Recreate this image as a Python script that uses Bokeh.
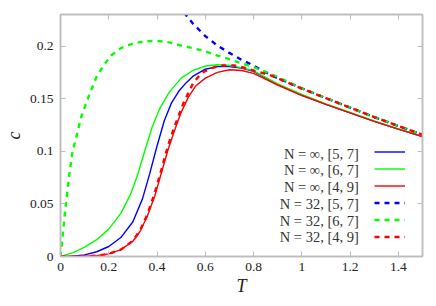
from bokeh.plotting import figure
from bokeh.models import (FixedTicker, LinearAxis, Label, Legend, LegendItem,
                          PrintfTickFormatter, CustomLabelingPolicy, Range1d)
from bokeh.embed import file_html
from bokeh.resources import INLINE

# ---------------- data ----------------
x_ticks = [0, 0.2, 0.4, 0.6, 0.8, 1.0, 1.2, 1.4]
y_ticks = [0, 0.05, 0.1, 0.15, 0.2]

labels = ["N = ∞, [5, 7]", "N = ∞, [6, 7]", "N = ∞, [4, 9]",
          "N = 32, [5, 7]", "N = 32, [6, 7]", "N = 32, [4, 9]"]

# N = inf, [5,7]  (blue solid)
T_inf57 = [0, 0.05, 0.1, 0.15, 0.2, 0.25, 0.3, 0.34, 0.37, 0.4, 0.43, 0.46, 0.49, 0.52,
           0.55, 0.6, 0.65, 0.7, 0.75, 0.8, 0.9, 1.0, 1.1, 1.2, 1.3, 1.4, 1.5]
c_inf57 = [0, 0.0003, 0.0015, 0.0045, 0.0095, 0.018, 0.033, 0.055, 0.079, 0.105, 0.129,
           0.146, 0.157, 0.165, 0.1715, 0.178, 0.1805, 0.1805, 0.179, 0.176, 0.1635,
           0.1535, 0.1445, 0.1365, 0.1285, 0.121, 0.114]

# N = inf, [6,7]  (green solid)
T_inf67 = [0, 0.05, 0.1, 0.15, 0.2, 0.25, 0.29, 0.32, 0.35, 0.38, 0.41, 0.45, 0.5, 0.55,
           0.6, 0.65, 0.7, 0.75, 0.8, 0.9, 1.0, 1.1, 1.2, 1.3, 1.4, 1.5]
c_inf67 = [0, 0.0035, 0.009, 0.016, 0.026, 0.041, 0.059, 0.078, 0.101, 0.123, 0.14,
           0.156, 0.1695, 0.177, 0.181, 0.1822, 0.1815, 0.1795, 0.1765, 0.164, 0.154,
           0.145, 0.137, 0.1288, 0.1212, 0.1142]

# N = inf, [4,9]  (red solid)
T_inf49 = [0, 0.1, 0.15, 0.2, 0.25, 0.3, 0.33, 0.36, 0.39, 0.42, 0.445, 0.47, 0.5, 0.53,
           0.56, 0.6, 0.65, 0.7, 0.75, 0.8, 0.9, 1.0, 1.1, 1.2, 1.3, 1.4, 1.5]
c_inf49 = [0, 0.0002, 0.0008, 0.0025, 0.0065, 0.0145, 0.024, 0.0385, 0.057, 0.081, 0.101,
           0.118, 0.137, 0.1515, 0.162, 0.1695, 0.175, 0.1775, 0.1768, 0.174, 0.163,
           0.153, 0.1445, 0.1365, 0.1285, 0.121, 0.114]

# N = 32, [5,7]  (blue dashed)
T_32_57 = [0.49, 0.52, 0.55, 0.6, 0.65, 0.7, 0.75, 0.8, 0.85, 0.9, 1.0, 1.1, 1.2, 1.3,
           1.4, 1.5]
c_32_57 = [0.24, 0.2295, 0.221, 0.2095, 0.2005, 0.1935, 0.187, 0.1815, 0.175, 0.1695,
           0.1598, 0.1505, 0.1415, 0.1325, 0.124, 0.1158]

# N = 32, [6,7]  (green dashed)
T_32_67 = [0, 0.01, 0.02, 0.035, 0.05, 0.065, 0.085, 0.105, 0.125, 0.15, 0.18, 0.21,
           0.25, 0.3, 0.35, 0.4, 0.45, 0.5, 0.55, 0.6, 0.65, 0.7, 0.75, 0.8, 0.85, 0.9,
           1.0, 1.1, 1.2, 1.3, 1.4, 1.5]
c_32_67 = [0, 0.022, 0.045, 0.075, 0.1, 0.113, 0.132, 0.145, 0.157, 0.171, 0.182, 0.191,
           0.198, 0.2025, 0.2045, 0.205, 0.2035, 0.2005, 0.198, 0.195, 0.191, 0.1875,
           0.1835, 0.18, 0.1755, 0.1705, 0.1598, 0.1505, 0.1415, 0.1325, 0.124, 0.1158]

# N = 32, [4,9]  (red dashed)
T_32_49 = [0, 0.1, 0.15, 0.2, 0.25, 0.3, 0.33, 0.36, 0.39, 0.42, 0.445, 0.47, 0.49, 0.51,
           0.55, 0.585, 0.625, 0.665, 0.72, 0.76, 0.81, 0.86, 0.9, 1.0, 1.1, 1.2, 1.3,
           1.4, 1.5]
c_32_49 = [0, 0.0002, 0.0008, 0.0025, 0.0065, 0.015, 0.025, 0.04, 0.06, 0.084, 0.105,
           0.122, 0.134, 0.146, 0.165, 0.1745, 0.179, 0.1815, 0.1815, 0.1795, 0.176,
           0.173, 0.1695, 0.1595, 0.1505, 0.1415, 0.1325, 0.124, 0.1158]

series = [
    (T_inf57, c_inf57, "#0000ff", "solid"),
    (T_inf67, c_inf67, "#00ff00", "solid"),
    (T_inf49, c_inf49, "#ff0000", "solid"),
    (T_32_57, c_32_57, "#0000ff", "dashed"),
    (T_32_67, c_32_67, "#00ff00", "dashed"),
    (T_32_49, c_32_49, "#ff0000", "dashed"),
]

# ---------------- figure ----------------
FONT = "Liberation Serif"
GRAY = "#bdbdbd"

p = figure(width=432, height=298, x_range=Range1d(0, 1.5), y_range=Range1d(0, 0.23),
           output_backend="svg", toolbar_location=None,
           min_border_left=58, min_border_right=10, min_border_top=14,
           min_border_bottom=38, x_axis_label="T", y_axis_label="c")
p.xgrid.visible = False
p.ygrid.visible = False
p.outline_line_color = GRAY
p.outline_line_width = 1.5
p.background_fill_color = "white"
p.border_fill_color = "white"

renderers = []
for T, c, col, kind in series:
    if kind == "solid":
        r = p.line(T, c, line_color=col, line_width=1.4)
    else:
        r = p.line(T, c, line_color=col, line_width=2.4, line_dash="5 5")
    renderers.append(r)


def style_axis(ax, show_labels):
    ax.axis_line_color = GRAY
    ax.axis_line_width = 1.5
    ax.major_tick_line_color = GRAY
    ax.major_tick_line_width = 1
    ax.major_tick_in = 5
    ax.major_tick_out = 0
    ax.minor_tick_in = 0
    ax.minor_tick_out = 0
    ax.major_label_text_font = FONT
    ax.major_label_text_font_size = "13.5px"
    ax.major_label_text_color = "#222222"
    ax.axis_label_text_font = FONT
    ax.axis_label_text_font_size = "18px"
    ax.axis_label_text_font_style = "italic"
    ax.axis_label_text_color = "#222222"
    ax.formatter = PrintfTickFormatter(format="%g")
    if not show_labels:
        ax.major_label_policy = CustomLabelingPolicy(code="return new Set()")
        ax.major_label_standoff = 0
        ax.major_label_text_font_size = "1px"


style_axis(p.xaxis[0], True)
style_axis(p.yaxis[0], True)
p.xaxis[0].ticker = FixedTicker(ticks=x_ticks)
p.yaxis[0].ticker = FixedTicker(ticks=y_ticks)
p.xaxis[0].major_label_standoff = 6
p.xaxis[0].axis_label_standoff = 2
p.yaxis[0].major_label_standoff = 7
p.yaxis[0].axis_label_standoff = 3

top = LinearAxis(ticker=FixedTicker(ticks=x_ticks))
right = LinearAxis(ticker=FixedTicker(ticks=y_ticks))
style_axis(top, False)
style_axis(right, False)
p.add_layout(top, "above")
p.add_layout(right, "right")

# ---------------- legend (labels left, samples right) ----------------
legend = Legend(items=[LegendItem(label=" ", renderers=[r]) for r in renderers],
                location=(314, 11), padding=0, margin=0, spacing=0,
                glyph_width=31, glyph_height=17, label_height=17, label_width=0,
                label_standoff=0, label_text_font_size="1px",
                border_line_alpha=0, background_fill_alpha=0)
p.add_layout(legend, "center")

row_px = 17.4
frame_h_px = 246.0
for i, txt in enumerate(labels):
    y_px = 11 + 17 / 2 + 17 * (len(labels) - 1 - i)
    p.add_layout(Label(x=1.236, y=y_px * 0.23 / frame_h_px, text=txt,
                       text_align="right", text_baseline="middle",
                       text_font=FONT, text_font_size="14.5px",
                       text_color="#333333"))

open("out.html", "w").write(file_html(p, INLINE))
